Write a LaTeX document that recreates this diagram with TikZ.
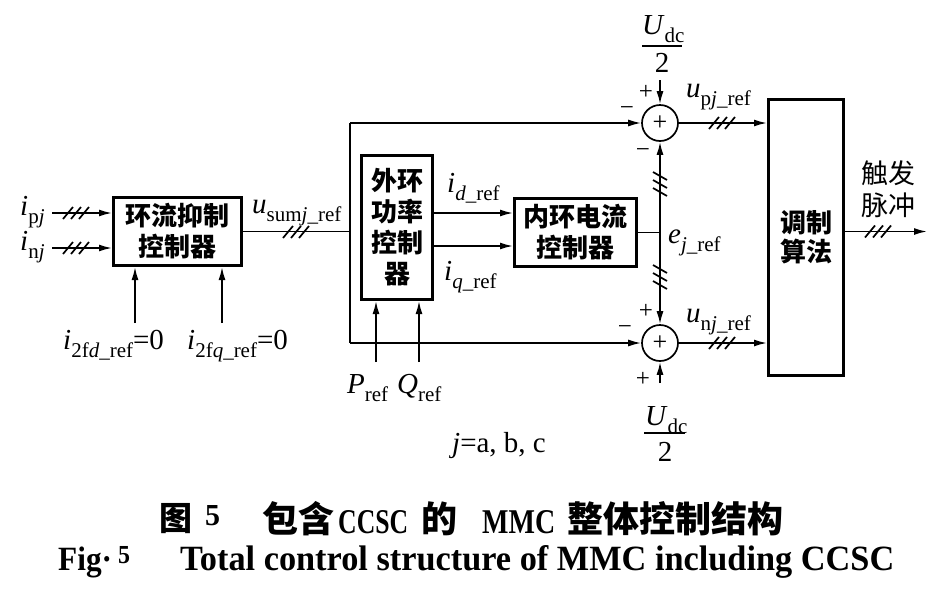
\documentclass[tikz,border=0pt]{standalone}
\usepackage{fontspec}
\usepackage{graphicx}
\setmainfont{Liberation Serif}
\newfontfamily\cjk{Noto Sans CJK SC}
\usetikzlibrary{arrows.meta}
\newcommand\sbs[1]{\raisebox{-0.28em}{\fontsize{21}{21}\selectfont #1}}
\newcommand\lab{\fontsize{29}{29}\selectfont}
\begin{document}
\begin{tikzpicture}[x=1pt,y=-1pt,
  box/.style={draw,line width=3pt,inner sep=0pt,align=center,font=\cjk\bfseries\fontsize{26}{31}\selectfont},
  ln/.style={line width=1.7pt},
  arr/.style={ln,-{Latex[length=13pt,width=7pt]}},
  sum/.style={circle,draw,line width=1.7pt,minimum size=36pt,inner sep=0pt,font=\fontsize{26}{26}\selectfont},
  lbl/.style={inner sep=0pt,anchor=base west,font=\lab},
  sgn/.style={inner sep=0pt,font=\fontsize{25}{25}\selectfont},
  cjkcap/.style={inner sep=0pt,anchor=west,font=\cjk\bfseries\fontsize{36}{36}\selectfont},
  latcap/.style={inner sep=0pt,anchor=base west},
  hh/.pic={\foreach \d in {-8,0,8}{\draw[line width=1.7pt] (\d-5,6) -- (\d+5,-6);}},
  hv/.pic={\foreach \d in {-8,0,8}{\draw[line width=1.7pt] (-7,\d-4) -- (7,\d+4);}}
]
\useasboundingbox (0,0) rectangle (952,598);
\fill[white] (0,0) rectangle (952,598);

% blocks
\node[box,minimum width=128pt,minimum height=68pt] (b1) at (177.5,231.5) {环流抑制\\控制器};
\node[box,minimum width=71pt,minimum height=144pt] (b2) at (397,227.5) {外环\\功率\\控制\\器};
\node[box,minimum width=122pt,minimum height=68pt] (b3) at (575.5,232.5) {内环电流\\控制器};
\node[box,minimum width=75pt,minimum height=276pt,font=\cjk\bfseries\fontsize{26}{29}\selectfont] (b4) at (806,237.5) {调制\\算法};
\node[sum] (sp) at (660,123) {+};
\node[sum] (sn) at (660,343) {+};

% inputs of b1
\coordinate (ipj) at (52,213);
\coordinate (inj) at (52,248);
\draw[arr] (ipj) -- (ipj -| b1.west);
\draw[arr] (inj) -- (inj -| b1.west);
\pic at (76,213) {hh};
\pic at (76,248) {hh};
\node[lbl] (Lipj) at (20,215) {\textit{i}\sbs{p\textit{j}}};
\node[lbl] (Linj) at (20,250) {\textit{i}\sbs{n\textit{j}}};

\coordinate (c1) at (135,323);
\coordinate (c2) at (222,323);
\draw[arr] (c1) -- (c1 |- b1.south);
\draw[arr] (c2) -- (c2 |- b1.south);
\node[lbl] (Li2d) at (63,349) {\textit{i}\sbs{2f\textit{d}\_ref}=0};
\node[lbl] (Li2q) at (187,349) {\textit{i}\sbs{2f\textit{q}\_ref}=0};

% u_sum branch
\coordinate (ct) at (350,123);
\coordinate (cb) at (350,343);
\draw[ln] (b1.east) -- (b1.east -| ct);
\draw[ln] (ct) -- (cb);
\draw[arr] (ct) -- (sp.west);
\draw[arr] (cb) -- (sn.west);
\pic at (296,232) {hh};
\node[lbl] (Lusum) at (252,213) {\textit{u}\sbs{sum\textit{j}\_ref}};

% outer loop -> inner loop
\draw[arr] ([yshift=14.5pt]b2.east) -- ([yshift=14.5pt]b2.east -| b3.west);
\draw[arr] ([yshift=-18.5pt]b2.east) -- ([yshift=-18.5pt]b2.east -| b3.west);
\node[lbl] (Lid) at (447,192) {\textit{i}\sbs{\textit{d}\_ref}};
\node[lbl] (Liq) at (444,280) {\textit{i}\sbs{\textit{q}\_ref}};

\coordinate (pr) at (376,362);
\coordinate (qr) at (419,362);
\draw[arr] (pr) -- (pr |- b2.south);
\draw[arr] (qr) -- (qr |- b2.south);
\node[lbl] (Lp) at (347,393) {\textit{P}\sbs{ref}};
\node[lbl] (Lq) at (397,393) {\textit{Q}\sbs{ref}};

% e_j
\coordinate (ej) at (sp.center |- b3.east);
\draw[ln] (b3.east) -- (ej);
\draw[arr] (ej) -- (sp.south);
\draw[arr] (ej) -- (sn.north);
\pic at (660,184) {hv};
\pic at (660,277) {hv};
\node[lbl] (Lej) at (668,243) {\textit{e}\sbs{\textit{j}\_ref}};

% Udc/2
\coordinate (ut) at (660,80);
\coordinate (ub) at (660,383);
\draw[arr] (ut) -- (sp.north);
\draw[arr] (ub) -- (sn.south);
\node[lbl] (Lu1) at (642,34) {\textit{U}\sbs{dc}};
\draw[ln] (642,46) -- (682,46);
\node[inner sep=0pt,anchor=base,font=\lab] (L21) at (662,72) {2};
\node[lbl] (Lu2) at (645,425) {\textit{U}\sbs{dc}};
\draw[ln] (644,433) -- (685,433);
\node[inner sep=0pt,anchor=base,font=\lab] (L22) at (665,461) {2};

% signs
\node[sgn] (s1) at (646,92) {+};
\node[sgn] (s2) at (627,111) {−};
\node[sgn] (s3) at (643,153) {−};
\node[sgn] (s4) at (646,311) {+};
\node[sgn] (s5) at (625,330) {−};
\node[sgn] (s6) at (643,379) {+};

% outputs
\draw[arr] (sp.east) -- (sp.east -| b4.west);
\draw[arr] (sn.east) -- (sn.east -| b4.west);
\pic at (722,123) {hh};
\pic at (722,343) {hh};
\node[lbl] (Lup) at (686,97) {\textit{u}\sbs{p\textit{j}\_ref}};
\node[lbl] (Lun) at (686,322) {\textit{u}\sbs{n\textit{j}\_ref}};

\coordinate (out) at (927,231.5);
\draw[arr] ([yshift=6pt]b4.east) -- (out);
\pic at (878,231.5) {hh};
\node[inner sep=0pt,align=center,font=\cjk\fontsize{27}{32}\selectfont] (trig) at (888,189) {触发\\脉冲};

\node[lbl] (Lj) at (452,452) {\textit{j}=a, b, c};

% caption
\node[inner sep=0pt,font=\cjk\bfseries\fontsize{33}{33}\selectfont] (capA) at (176,519) {图};
\node[latcap] (capB) at (205,525) {\resizebox{15pt}{20pt}{\bfseries 5}};
\node[cjkcap] (capC) at (262,519) {包含};
\node[latcap] (capD) at (338,533) {\resizebox{70pt}{23pt}{\bfseries CCSC}};
\node[cjkcap] (capE) at (421,519) {的};
\node[latcap] (capF) at (482,533) {\resizebox{73pt}{23pt}{\bfseries MMC}};
\node[cjkcap] (capG) at (567,519) {整体控制结构};
\node[latcap] (capH) at (58,570) {\scalebox{0.92}[1]{\fontsize{34}{34}\selectfont\bfseries Fig·}};
\node[latcap] (capI) at (118,563) {\scalebox{0.92}[1]{\fontsize{26}{26}\selectfont\bfseries 5}};
\node[latcap] (capJ) at (180,570) {\resizebox{714pt}{25pt}{\bfseries Total control structure of MMC including CCSC}};
\end{tikzpicture}
\end{document}
